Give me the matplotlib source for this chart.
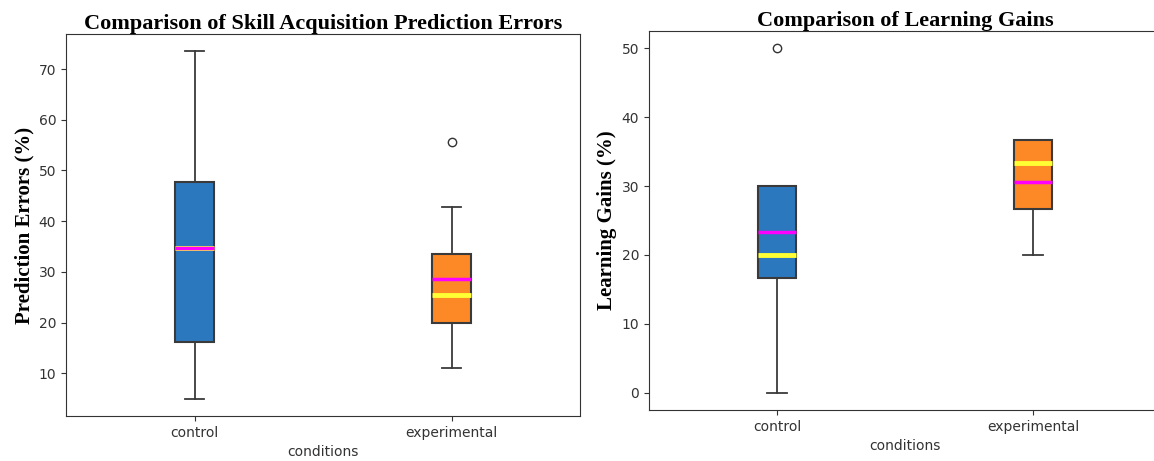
import matplotlib
matplotlib.use("Agg")
import matplotlib.pyplot as plt

# condition labels
conditions = ['control', 'experimental']
box_colors = ['#2b78be', '#fd8826']

# prediction errors (%) : whisker low, q1, median, q3, whisker high, mean, outliers
err_low = [5.0, 11.0]
err_q1 = [16.2, 19.9]
err_med = [34.7, 25.4]
err_q3 = [47.8, 33.5]
err_high = [73.5, 42.8]
err_mean = [34.7, 28.6]
err_fliers = [[], [55.7]]

# learning gains (%)
gain_low = [0.0, 20.0]
gain_q1 = [16.7, 26.7]
gain_med = [20.0, 33.3]
gain_q3 = [30.0, 36.7]
gain_high = [30.0, 36.7]
gain_mean = [23.3, 30.6]
gain_fliers = [[50.0], []]

def make_stats(low, q1, med, q3, high, mean, fliers):
    stats = []
    for i in range(len(conditions)):
        stats.append({'label': conditions[i], 'whislo': low[i], 'q1': q1[i], 'med': med[i],
                      'q3': q3[i], 'whishi': high[i], 'mean': mean[i], 'fliers': fliers[i]})
    return stats

def draw(ax, stats, title, ylabel):
    bp = ax.bxp(stats, patch_artist=True, showmeans=True, meanline=True,
                boxprops=dict(edgecolor='#3a3a3a', linewidth=1.5),
                whiskerprops=dict(color='#3a3a3a', linewidth=1.3),
                capprops=dict(color='#3a3a3a', linewidth=1.3),
                medianprops=dict(color='#ffff33', linewidth=3.5),
                meanprops=dict(color='magenta', linestyle='-', linewidth=2.5),
                flierprops=dict(marker='o', markerfacecolor='none', markeredgecolor='#333333', markersize=6))
    for patch, c in zip(bp['boxes'], box_colors):
        patch.set_facecolor(c)
    ax.set_title(title, fontsize=16, fontweight='bold', family='Liberation Serif', pad=3)
    ax.set_ylabel(ylabel, fontsize=15, fontweight='bold', family='Liberation Serif', labelpad=3)
    ax.set_xlabel('conditions', fontsize=10, color='#333333')
    ax.tick_params(labelsize=10, colors='#333333')
    for s in ax.spines.values():
        s.set_color('#333333')

fig = plt.figure(figsize=(11.54, 4.61), dpi=100)
ax1 = fig.add_axes([0.0572, 0.0976, 0.4454, 0.8287])
ax2 = fig.add_axes([0.5624, 0.1106, 0.4437, 0.822])

draw(ax1, make_stats(err_low, err_q1, err_med, err_q3, err_high, err_mean, err_fliers),
     'Comparison of Skill Acquisition Prediction Errors', 'Prediction Errors (%)')
draw(ax2, make_stats(gain_low, gain_q1, gain_med, gain_q3, gain_high, gain_mean, gain_fliers),
     'Comparison of Learning Gains', 'Learning Gains (%)')

fig.savefig('out.png', dpi=100)
